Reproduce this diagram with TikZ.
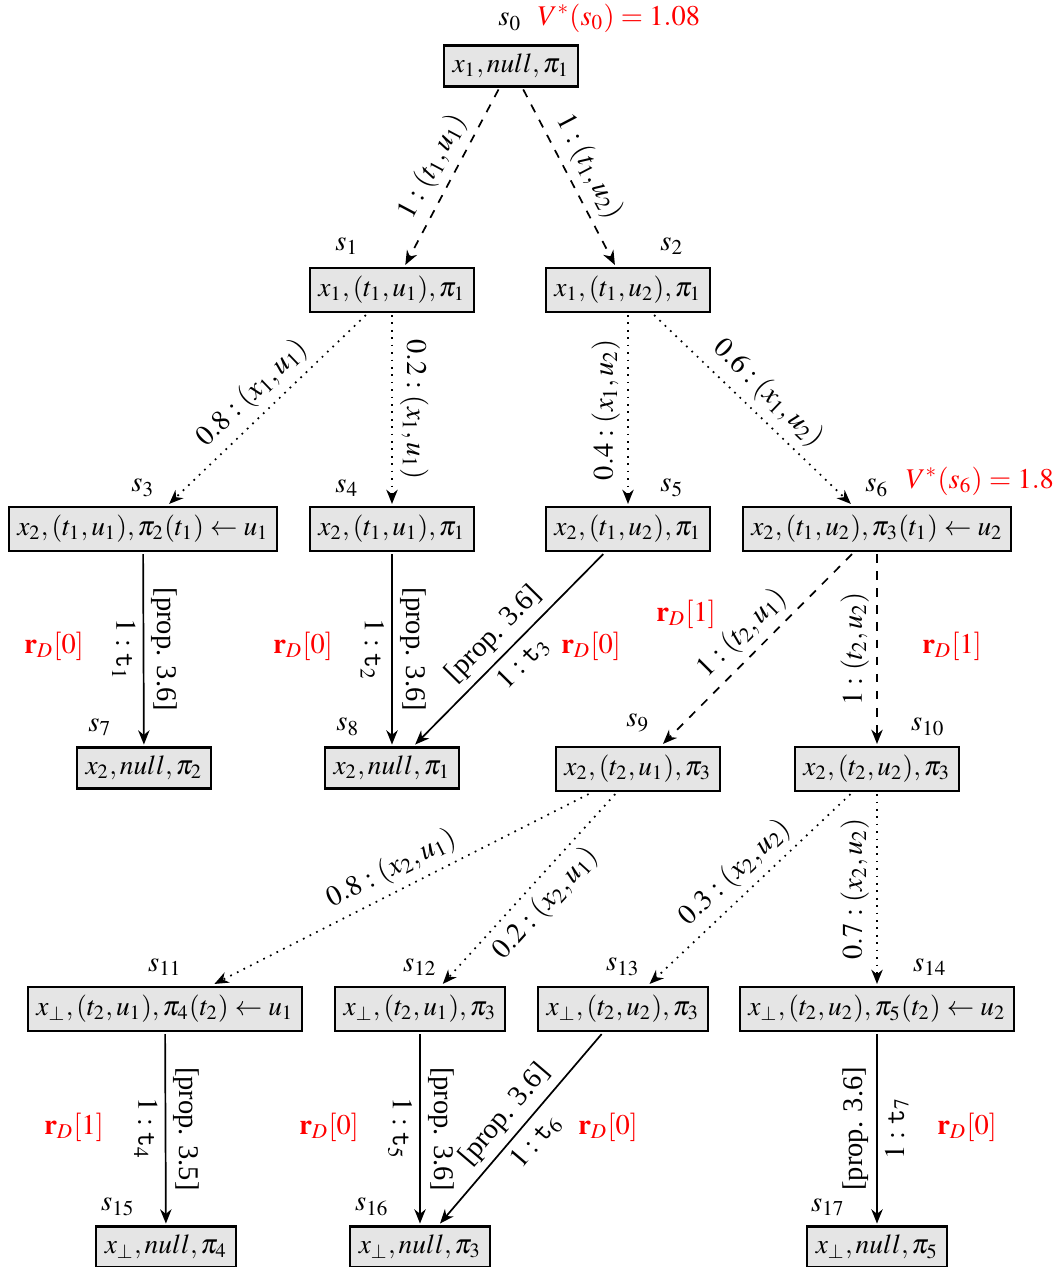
\documentclass[tikz,border=0pt]{standalone}
\usepackage{mathptmx}
\usepackage[no-math]{fontspec}
\setmainfont{Liberation Serif}
\usetikzlibrary{arrows.meta}

\begin{document}
\begin{tikzpicture}[x=0.3509pt, y=-0.3509pt,
  state/.style={draw, thick, fill=gray!20, inner sep=3pt, outer sep=1pt,
                font=\fontsize{9.6}{11.5}\selectfont},
  slab/.style={inner sep=1pt},
  rew/.style={text=red, inner sep=1pt},
  link/.style={semithick, -{Stealth[length=5pt, width=4pt, inset=1.6pt]}},
  det/.style={link, dashed},
  prob/.style={link, dotted},
  term/.style={link},
  lab/.style={midway, sloped, inner sep=2.5pt},
  vup/.style={midway, rotate=90, inner sep=2.5pt},
  vdown/.style={midway, rotate=-90, inner sep=2.5pt}]

\useasboundingbox (0,0) rectangle (1056,1267);

% states of the tree
\node[state] (s0)  at (511,66)   {$x_1, null, \pi_1$};
\node[state] (s1)  at (392,290)  {$x_1, (t_1,u_1), \pi_1$};
\node[state] (s2)  at (628,290)  {$x_1, (t_1,u_2), \pi_1$};
\node[state] (s3)  at (143,529)  {$x_2, (t_1,u_1), \pi_2(t_1) \leftarrow u_1$};
\node[state] (s4)  at (392,529)  {$x_2, (t_1,u_1), \pi_1$};
\node[state] (s5)  at (628,529)  {$x_2, (t_1,u_2), \pi_1$};
\node[state] (s6)  at (877,529)  {$x_2, (t_1,u_2), \pi_3(t_1) \leftarrow u_2$};
\node[state] (s7)  at (144,768)  {$x_2, null, \pi_2$};
\node[state] (s8)  at (392,768)  {$x_2, null, \pi_1$};
\node[state] (s9)  at (638,769)  {$x_2, (t_2,u_1), \pi_3$};
\node[state] (s10) at (877,769)  {$x_2, (t_2,u_2), \pi_3$};
\node[state] (s11) at (165,1009) {$x_\perp, (t_2,u_1), \pi_4(t_2) \leftarrow u_1$};
\node[state] (s12) at (420,1009) {$x_\perp, (t_2,u_1), \pi_3$};
\node[state] (s13) at (623,1009) {$x_\perp, (t_2,u_2), \pi_3$};
\node[state] (s14) at (877,1009) {$x_\perp, (t_2,u_2), \pi_5(t_2) \leftarrow u_2$};
\node[state] (s15) at (166,1247) {$x_\perp, null, \pi_4$};
\node[state] (s16) at (420,1247) {$x_\perp, null, \pi_3$};
\node[state] (s17) at (877,1247) {$x_\perp, null, \pi_5$};

% state names
\node[slab] (n0)  at (510,22)   {$s_0$};
\node[slab] (n1)  at (347,246)  {$s_1$};
\node[slab] (n2)  at (672,246)  {$s_2$};
\node[slab] (n3)  at (143,488)  {$s_3$};
\node[slab] (n4)  at (347,488)  {$s_4$};
\node[slab] (n5)  at (672,488)  {$s_5$};
\node[slab] (n6)  at (877,488)  {$s_6$};
\node[slab] (n7)  at (100,727)  {$s_7$};
\node[slab] (n8)  at (348,727)  {$s_8$};
\node[slab] (n9)  at (638,723)  {$s_9$};
\node[slab] (n10) at (928,727)  {$s_{10}$};
\node[slab] (n11) at (165,967)  {$s_{11}$};
\node[slab] (n12) at (420,967)  {$s_{12}$};
\node[slab] (n13) at (623,967)  {$s_{13}$};
\node[slab] (n14) at (930,967)  {$s_{14}$};
\node[slab] (n15) at (118,1207) {$s_{15}$};
\node[slab] (n16) at (372,1207) {$s_{16}$};
\node[slab] (n17) at (828,1207) {$s_{17}$};

% optimal values
\node[rew] (v0) at (619,18)  {$V^*(s_0) = 1.08$};
\node[rew] (v6) at (980,481) {$V^*(s_6) = 1.8$};

% rewards
\node[rew] (r7)  at (54,646)   {$\mathbf{r}_D[0]$};
\node[rew] (r8)  at (303,646)  {$\mathbf{r}_D[0]$};
\node[rew] (r8b) at (591,646)  {$\mathbf{r}_D[0]$};
\node[rew] (r9)  at (686,614)  {$\mathbf{r}_D[1]$};
\node[rew] (r10) at (952,646)  {$\mathbf{r}_D[1]$};
\node[rew] (r15) at (74,1127)  {$\mathbf{r}_D[1]$};
\node[rew] (r16) at (329,1127) {$\mathbf{r}_D[0]$};
\node[rew] (r16b) at (608,1127) {$\mathbf{r}_D[0]$};
\node[rew] (r17) at (967,1127) {$\mathbf{r}_D[0]$};

% decisions
\draw[det] (s0) -- node[lab, above] {$1:(t_1,u_1)$} (s1);
\draw[det] (s0) -- node[lab, above] {$1:(t_1,u_2)$} (s2);
\draw[det] (s6) -- node[lab, above] {$1:(t_2,u_1)$} (s9);
\draw[det] (s6) -- node[vup, anchor=south] {$1:(t_2,u_2)$} (s10);

% stochastic transitions
\draw[prob] (s1) -- node[lab, above] {$0.8:(x_1,u_1)$} (s3);
\draw[prob] (s1) -- node[vdown, anchor=south] {$0.2:(x_1,u_1)$} (s4);
\draw[prob] (s2) -- node[vup, anchor=south] {$0.4:(x_1,u_2)$} (s5);
\draw[prob] (s2) -- node[lab, above] {$0.6:(x_1,u_2)$} (s6);
\draw[prob] (s9) -- node[lab, above] {$0.8:(x_2,u_1)$} (s11);
\draw[prob] (s9) -- node[lab, below] {$0.2:(x_2,u_1)$} (s12);
\draw[prob] (s10) -- node[lab, above] {$0.3:(x_2,u_2)$} (s13);
\draw[prob] (s10) -- node[vup, anchor=south] {$0.7:(x_2,u_2)$} (s14);

% terminations
\draw[term] (s3) -- node[vdown, anchor=north] {$1:\mathtt{t}_1$}
                    node[vdown, anchor=south] {[prop. 3.6]} (s7);
\draw[term] (s4) -- node[vdown, anchor=north] {$1:\mathtt{t}_2$}
                    node[vdown, anchor=south] {[prop. 3.6]} (s8);
\draw[term] (s5) -- node[lab, above] {[prop. 3.6]}
                    node[lab, below] {$1:\mathtt{t}_3$} (s8);
\draw[term] (s11) -- node[vdown, anchor=north] {$1:\mathtt{t}_4$}
                     node[vdown, anchor=south] {[prop. 3.5]} (s15);
\draw[term] (s12) -- node[vdown, anchor=north] {$1:\mathtt{t}_5$}
                     node[vdown, anchor=south] {[prop. 3.6]} (s16);
\draw[term] (s13) -- node[lab, above] {[prop. 3.6]}
                     node[lab, below] {$1:\mathtt{t}_6$} (s16);
\draw[term] (s14) -- node[vup, anchor=south] {[prop. 3.6]}
                     node[vup, anchor=north] {$1:\mathtt{t}_7$} (s17);
\end{tikzpicture}
\end{document}
